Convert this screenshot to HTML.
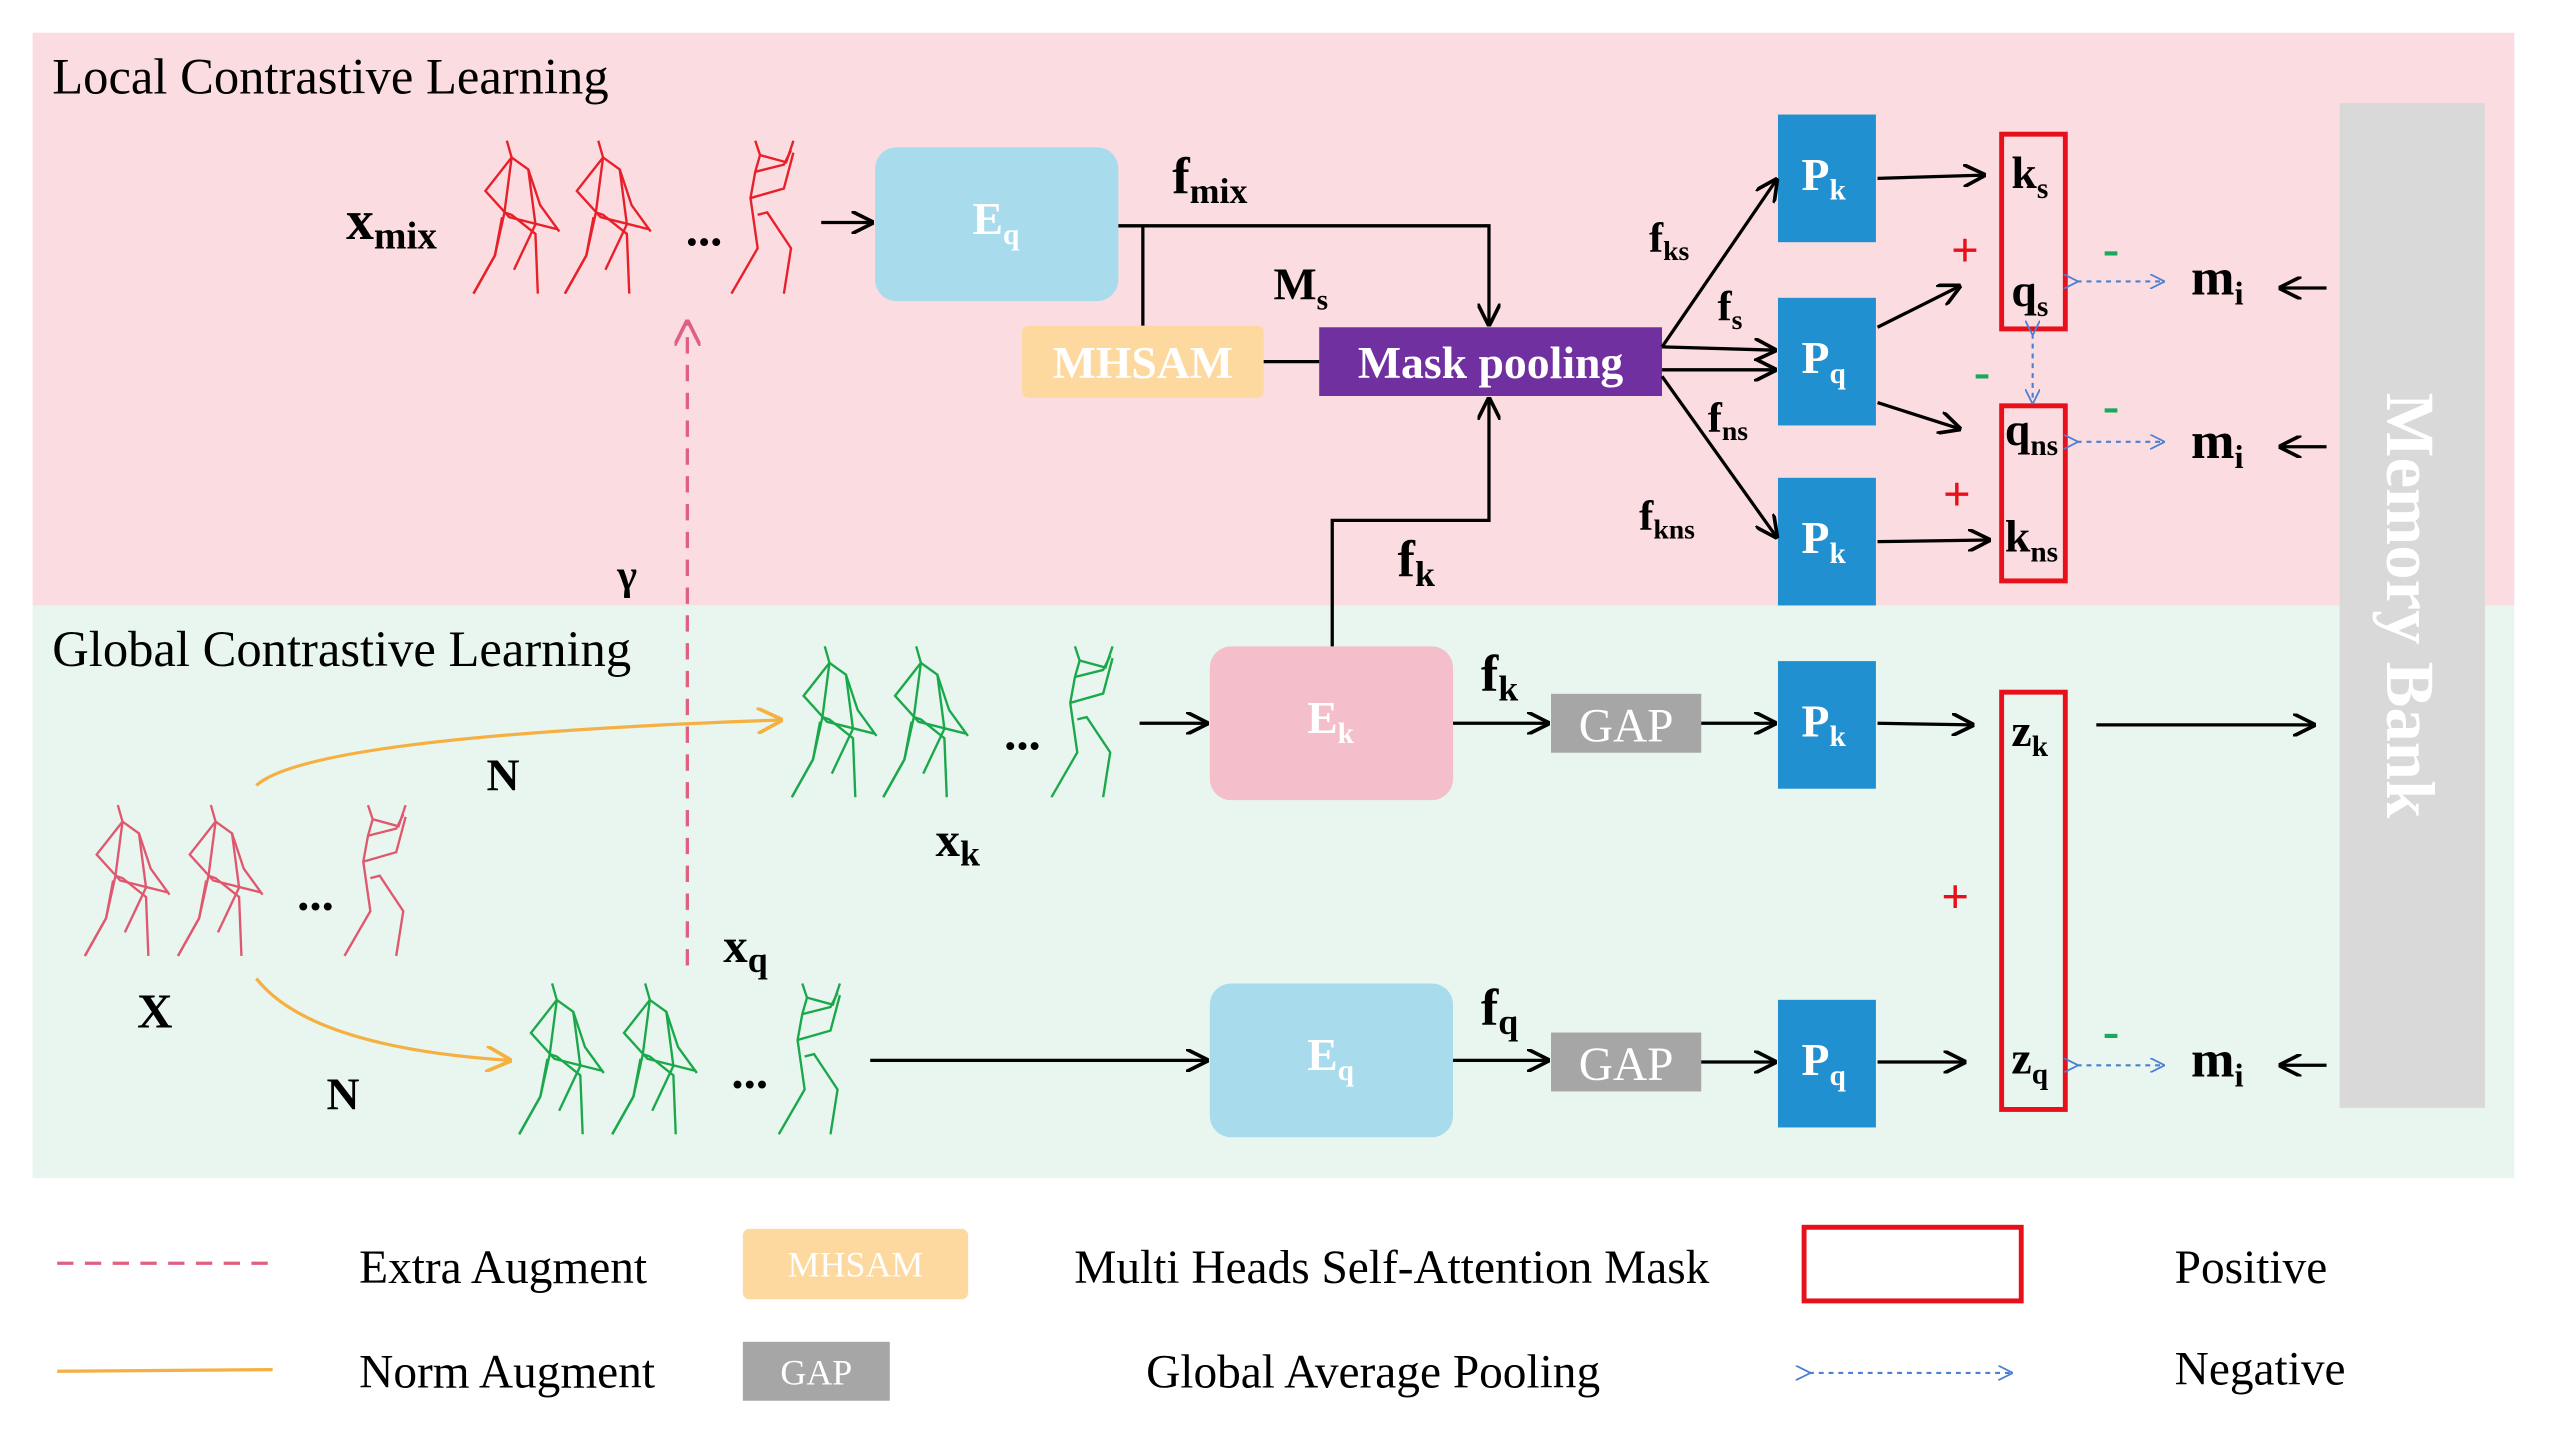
<!DOCTYPE html>
<html><head><meta charset="utf-8"><style>html,body{margin:0;padding:0;background:#fff}svg{display:block}text{font-family:"Liberation Serif",serif}</style></head>
<body>
<svg width="2560" height="1440" viewBox="0 0 1568 880" preserveAspectRatio="none" xmlns="http://www.w3.org/2000/svg">
<defs>
<marker id="a" viewBox="0 0 10 10" refX="9" refY="5" markerWidth="7" markerHeight="7" orient="auto"><path d="M0,0 L10,5 L0,10" fill="none" stroke="#000" stroke-width="1.6"/></marker>
<marker id="ao" viewBox="0 0 10 10" refX="9" refY="5" markerWidth="8" markerHeight="8" orient="auto"><path d="M0,0 L10,5 L0,10" fill="none" stroke="#f5b041" stroke-width="1.4"/></marker>
<marker id="ap" viewBox="0 0 10 10" refX="9" refY="5" markerWidth="8" markerHeight="8" orient="auto"><path d="M0,0 L10,5 L0,10" fill="none" stroke="#e06080" stroke-width="1.4"/></marker>
<marker id="ab" viewBox="0 0 10 10" refX="9" refY="5" markerWidth="7" markerHeight="7" orient="auto"><path d="M0,0 L10,5 L0,10" fill="none" stroke="#4a7fd4" stroke-width="1.2"/></marker>
<g id="f1"><polyline points="28,0 32,14 26,60 18,96 0,128"/><polyline points="32,14 46,24 52,70 34,108"/><polyline points="32,14 10,42 30,64 70,74"/><polyline points="46,24 56,54 72,76"/><polyline points="26,60 32,62 52,78 54,128"/><polyline points="24,64 18,96 0,128"/></g>
<g id="f3"><polyline points="20,0 24,12 20,26 16,48 22,90 0,128"/><polyline points="24,12 46,18 52,0"/><polyline points="20,26 44,20 50,8"/><polyline points="16,48 44,40 52,10"/><polyline points="22,62 30,60 50,90 44,128"/></g>
</defs>
<rect x="20" y="20" width="1520" height="350" fill="#fbdde1"/>
<rect x="20" y="370" width="1520" height="350" fill="#e8f6ef"/>
<text x="32" y="57" font-size="31">Local Contrastive Learning</text>
<text x="32" y="407" font-size="31">Global Contrastive Learning</text>
<rect x="1433" y="63" width="89" height="614" fill="#d9d9d9"/>
<text transform="translate(1462,370) rotate(90)" text-anchor="middle" font-size="42" font-weight="bold" fill="#fff">Memory Bank</text>

<g fill="none" stroke="#e8202a" stroke-width="2">
<g transform="translate(290,86) scale(0.73)"><use href="#f1"/></g>
<g transform="translate(346,86) scale(0.73)"><use href="#f1"/></g>
<g transform="translate(448,86) scale(0.73)"><use href="#f3"/></g>
</g>
<g fill="none" stroke="#1aa84a" stroke-width="2">
<g transform="translate(485,395) scale(0.72)"><use href="#f1"/></g>
<g transform="translate(541,395) scale(0.72)"><use href="#f1"/></g>
<g transform="translate(644,395) scale(0.72)"><use href="#f3"/></g>
<g transform="translate(318,601) scale(0.72)"><use href="#f1"/></g>
<g transform="translate(375,601) scale(0.72)"><use href="#f1"/></g>
<g transform="translate(477,601) scale(0.72)"><use href="#f3"/></g>
</g>
<g fill="none" stroke="#e05870" stroke-width="2">
<g transform="translate(52,492) scale(0.72)"><use href="#f1"/></g>
<g transform="translate(109,492) scale(0.72)"><use href="#f1"/></g>
<g transform="translate(211,492) scale(0.72)"><use href="#f3"/></g>
</g>
<g font-size="30" font-weight="bold">
<text x="420" y="150">...</text><text x="615" y="458">...</text><text x="448" y="665">...</text><text x="182" y="556">...</text>
</g>
<text x="212" y="146" font-size="34" font-weight="bold">x<tspan font-size="24" dy="6">mix</tspan></text>
<text x="573" y="523" font-size="30" font-weight="bold">x<tspan font-size="22" dy="6">k</tspan></text>
<text x="443" y="588" font-size="30" font-weight="bold">x<tspan font-size="22" dy="6">q</tspan></text>
<text x="84" y="628" font-size="30" font-weight="bold">X</text>
<text x="298" y="483" font-size="28" font-weight="bold">N</text>
<text x="200" y="678" font-size="28" font-weight="bold">N</text>
<text x="378" y="360" font-size="26" font-weight="bold">γ</text>

<path d="M157,480 Q190,450 478,440" fill="none" stroke="#f5b041" stroke-width="2" marker-end="url(#ao)"/>
<path d="M157,598 Q190,640 312,648" fill="none" stroke="#f5b041" stroke-width="2" marker-end="url(#ao)"/>
<line x1="421" y1="590" x2="421" y2="197" stroke="#e06080" stroke-width="2" stroke-dasharray="10,7" marker-end="url(#ap)"/>

<rect x="536" y="90" width="149" height="94" rx="13" fill="#a8dcec"/>
<text x="610" y="143" text-anchor="middle" font-size="28" font-weight="bold" fill="#fff">E<tspan font-size="18" dy="6">q</tspan></text>
<rect x="741" y="395" width="149" height="94" rx="13" fill="#f4bfca"/>
<text x="815" y="448" text-anchor="middle" font-size="28" font-weight="bold" fill="#fff">E<tspan font-size="18" dy="6">k</tspan></text>
<rect x="741" y="601" width="149" height="94" rx="13" fill="#a8dcec"/>
<text x="815" y="654" text-anchor="middle" font-size="28" font-weight="bold" fill="#fff">E<tspan font-size="18" dy="6">q</tspan></text>
<rect x="626" y="199" width="148" height="44" rx="4" fill="#fdd9a0"/>
<text x="700" y="231" text-anchor="middle" font-size="28" font-weight="bold" fill="#fff">MHSAM</text>
<rect x="808" y="200" width="210" height="42" fill="#7030a0"/>
<text x="913" y="231" text-anchor="middle" font-size="28" font-weight="bold" fill="#fff">Mask pooling</text>
<rect x="950" y="424" width="92" height="36" fill="#a6a6a6"/>
<text x="996" y="453" text-anchor="middle" font-size="29" fill="#fff">GAP</text>
<rect x="950" y="631" width="92" height="36" fill="#a6a6a6"/>
<text x="996" y="660" text-anchor="middle" font-size="29" fill="#fff">GAP</text>
<g fill="#2190d0">
<rect x="1089" y="70" width="60" height="78"/><rect x="1089" y="182" width="60" height="78"/><rect x="1089" y="292" width="60" height="78"/><rect x="1089" y="404" width="60" height="78"/><rect x="1089" y="611" width="60" height="78"/>
</g>
<g font-size="28" font-weight="bold" fill="#fff" text-anchor="middle">
<text x="1117" y="116">P<tspan font-size="18" dy="6">k</tspan></text>
<text x="1117" y="228">P<tspan font-size="18" dy="6">q</tspan></text>
<text x="1117" y="338">P<tspan font-size="18" dy="6">k</tspan></text>
<text x="1117" y="450">P<tspan font-size="18" dy="6">k</tspan></text>
<text x="1117" y="657">P<tspan font-size="18" dy="6">q</tspan></text>
</g>
<g fill="none" stroke="#e8101a" stroke-width="3">
<rect x="1226" y="82" width="39" height="119"/><rect x="1226" y="248" width="39" height="107"/><rect x="1226" y="423" width="39" height="255"/>
</g>
<g font-size="28" font-weight="bold">
<text x="1232" y="115">k<tspan font-size="18" dy="6">s</tspan></text>
<text x="1232" y="187">q<tspan font-size="18" dy="6">s</tspan></text>
<text x="1228" y="272">q<tspan font-size="18" dy="6">ns</tspan></text>
<text x="1228" y="337">k<tspan font-size="18" dy="6">ns</tspan></text>
<text x="1232" y="456">z<tspan font-size="18" dy="6">k</tspan></text>
<text x="1232" y="656">z<tspan font-size="18" dy="6">q</tspan></text>
<text x="1342" y="180" font-size="32">m<tspan font-size="20" dy="6">i</tspan></text>
<text x="1342" y="280" font-size="32">m<tspan font-size="20" dy="6">i</tspan></text>
<text x="1342" y="658" font-size="32">m<tspan font-size="20" dy="6">i</tspan></text>
<text x="718" y="118" font-size="32">f<tspan font-size="22" dy="6">mix</tspan></text>
<text x="780" y="183">M<tspan font-size="18" dy="6">s</tspan></text>
<text x="856" y="352" font-size="32">f<tspan font-size="22" dy="6">k</tspan></text>
<text x="907" y="422" font-size="32">f<tspan font-size="22" dy="6">k</tspan></text>
<text x="907" y="626" font-size="32">f<tspan font-size="22" dy="6">q</tspan></text>
<text x="1010" y="154" font-size="26">f<tspan font-size="17" dy="5">ks</tspan></text>
<text x="1052" y="196" font-size="26">f<tspan font-size="17" dy="5">s</tspan></text>
<text x="1046" y="264" font-size="26">f<tspan font-size="17" dy="5">ns</tspan></text>
<text x="1004" y="324" font-size="26">f<tspan font-size="17" dy="5">kns</tspan></text>
</g>
<g font-size="30" font-weight="bold">
<text x="1195" y="163" fill="#e8101a">+</text>
<text x="1190" y="312" fill="#e8101a">+</text>
<text x="1189" y="558" fill="#e8101a">+</text>
<text x="1288" y="162" fill="#1aa860">-</text>
<text x="1209" y="237" fill="#1aa860">-</text>
<text x="1288" y="258" fill="#1aa860">-</text>
<text x="1288" y="640" fill="#1aa860">-</text>
</g>

<g stroke="#000" stroke-width="2" fill="none">
<line x1="503" y1="136" x2="534" y2="136" marker-end="url(#a)"/>
<polyline points="685,138 912,138 912,198" marker-end="url(#a)"/>
<line x1="700" y1="138" x2="700" y2="199"/>
<line x1="774" y1="221" x2="808" y2="221"/>
<polyline points="816,395 816,318 912,318 912,244" marker-end="url(#a)"/>
<line x1="1018" y1="212" x2="1088" y2="110" marker-end="url(#a)"/>
<line x1="1018" y1="212" x2="1087" y2="214" marker-end="url(#a)"/>
<line x1="1018" y1="226" x2="1087" y2="226" marker-end="url(#a)"/>
<line x1="1018" y1="230" x2="1088" y2="328" marker-end="url(#a)"/>
<line x1="1150" y1="109" x2="1215" y2="107" marker-end="url(#a)"/>
<line x1="1150" y1="200" x2="1200" y2="175" marker-end="url(#a)"/>
<line x1="1150" y1="246" x2="1200" y2="262" marker-end="url(#a)"/>
<line x1="1150" y1="331" x2="1218" y2="330" marker-end="url(#a)"/>
<line x1="1425" y1="176" x2="1397" y2="176" marker-end="url(#a)"/>
<line x1="1425" y1="273" x2="1397" y2="273" marker-end="url(#a)"/>
<line x1="1425" y1="651" x2="1397" y2="651" marker-end="url(#a)"/>
<line x1="698" y1="442" x2="739" y2="442" marker-end="url(#a)"/>
<line x1="890" y1="442" x2="948" y2="442" marker-end="url(#a)"/>
<line x1="1042" y1="442" x2="1087" y2="442" marker-end="url(#a)"/>
<line x1="1150" y1="442" x2="1208" y2="443" marker-end="url(#a)"/>
<line x1="1284" y1="443" x2="1417" y2="443" marker-end="url(#a)"/>
<line x1="533" y1="648" x2="739" y2="648" marker-end="url(#a)"/>
<line x1="890" y1="648" x2="948" y2="648" marker-end="url(#a)"/>
<line x1="1042" y1="649" x2="1087" y2="649" marker-end="url(#a)"/>
<line x1="1150" y1="649" x2="1203" y2="649" marker-end="url(#a)"/>
</g>
<g stroke="#4a7fd4" stroke-width="1.3" fill="none" stroke-dasharray="3,3">
<line x1="1272" y1="172" x2="1325" y2="172" marker-end="url(#ab)" marker-start="url(#ab)"/>
<line x1="1272" y1="270" x2="1325" y2="270" marker-end="url(#ab)" marker-start="url(#ab)"/>
<line x1="1272" y1="651" x2="1325" y2="651" marker-end="url(#ab)" marker-start="url(#ab)"/>
<line x1="1245" y1="204" x2="1245" y2="246" marker-end="url(#ab)" marker-start="url(#ab)"/>
<line x1="1108" y1="839" x2="1232" y2="839" marker-end="url(#ab)" marker-start="url(#ab)"/>
</g>

<line x1="35" y1="772" x2="167" y2="772" stroke="#e06080" stroke-width="2" stroke-dasharray="10,7"/>
<line x1="35" y1="838" x2="167" y2="837" stroke="#f5b041" stroke-width="2"/>
<text x="220" y="784" font-size="29">Extra Augment</text>
<text x="220" y="848" font-size="29">Norm Augment</text>
<rect x="455" y="751" width="138" height="43" rx="4" fill="#fdd9a0"/>
<text x="524" y="780" text-anchor="middle" font-size="22" fill="#fff">MHSAM</text>
<rect x="455" y="820" width="90" height="36" fill="#a6a6a6"/>
<text x="500" y="846" text-anchor="middle" font-size="22" fill="#fff">GAP</text>
<text x="658" y="784" font-size="29">Multi Heads Self-Attention Mask</text>
<text x="702" y="848" font-size="29">Global Average Pooling</text>
<rect x="1105" y="750" width="133" height="45" fill="none" stroke="#e8101a" stroke-width="3"/>
<text x="1332" y="784" font-size="29">Positive</text>
<text x="1332" y="846" font-size="29">Negative</text>
</svg>
</body></html>
